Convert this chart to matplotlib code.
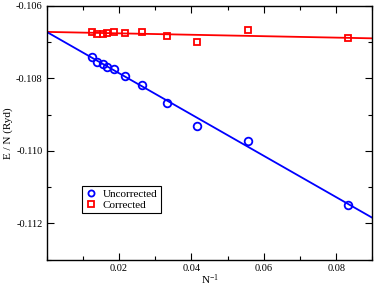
import matplotlib
matplotlib.use("Agg")
import matplotlib.pyplot as plt
import numpy as np
from matplotlib.ticker import MultipleLocator, FormatStrFormatter

plt.rcParams["font.family"] = ["Liberation Serif", "DejaVu Serif"]
plt.rcParams["axes.unicode_minus"] = False
plt.rcParams["mathtext.default"] = "regular"

# 1/N values
inv_n = [1 / 80, 1 / 72, 1 / 64, 1 / 60, 1 / 54, 1 / 46, 1 / 38, 1 / 30, 1 / 24, 1 / 18, 1 / 12]
uncorrected = [-0.107404, -0.107559, -0.107614, -0.107680, -0.107752, -0.107945,
               -0.108185, -0.108673, -0.109308, -0.109730, -0.111495]
corrected = [-0.106723, -0.106770, -0.106770, -0.106759, -0.106731, -0.106742,
             -0.106723, -0.106825, -0.107007, -0.106668, -0.106888]

# linear fits (intercept, slope) as drawn
fit_uncorr = (-0.10672, -0.05694)
fit_corr = (-0.10672, -0.00197)

fig = plt.figure(figsize=(3.74, 2.88), dpi=100)
ax = fig.add_axes([0.1249, 0.0983, 0.8706, 0.8816])

xs = np.array([0.0, 0.09])
ax.plot(xs, fit_corr[0] + fit_corr[1] * xs, color="red", lw=1.3, zorder=2)
ax.plot(xs, fit_uncorr[0] + fit_uncorr[1] * xs, color="blue", lw=1.3, zorder=2)

ax.plot(inv_n, uncorrected, "o", ms=5.5, mfc="none", mec="blue", mew=1.3,
        linestyle="none", label="Uncorrected", zorder=3)
ax.plot(inv_n, corrected, "s", ms=4.8, mfc="none", mec="red", mew=1.3,
        linestyle="none", label="Corrected", zorder=3)

ax.set_xlim(0, 0.09)
ax.set_ylim(-0.113, -0.106)
ax.xaxis.set_major_locator(MultipleLocator(0.02))
ax.xaxis.set_minor_locator(MultipleLocator(0.01))
ax.yaxis.set_major_locator(MultipleLocator(0.002))
ax.yaxis.set_minor_locator(MultipleLocator(0.001))
ax.yaxis.set_major_formatter(FormatStrFormatter("%.3f"))
ax.xaxis.set_major_formatter(FormatStrFormatter("%.2f"))
xt = ax.get_xticks()
ax.set_xticks([t for t in xt if 0 < t <= 0.09])

ax.tick_params(which="both", direction="in", top=True, right=True,
               labelsize=7.5, width=0.8, pad=3)
ax.tick_params(which="major", length=5)
ax.tick_params(which="minor", length=3)
for s in ax.spines.values():
    s.set_linewidth(1.0)

ax.set_xlabel("N$^{-1}$", fontsize=8, labelpad=0)
ax.set_ylabel("E / N (Ryd)", fontsize=8, labelpad=2)

leg = ax.legend(loc="upper left", bbox_to_anchor=(0.108, 0.29), borderaxespad=0,
                fontsize=8, fancybox=False, framealpha=1, edgecolor="black",
                handlelength=1.0, handletextpad=0.6, borderpad=0.3,
                labelspacing=0.1, markerscale=0.8)
leg.get_frame().set_linewidth(0.8)

fig.savefig("out.png", dpi=100)
